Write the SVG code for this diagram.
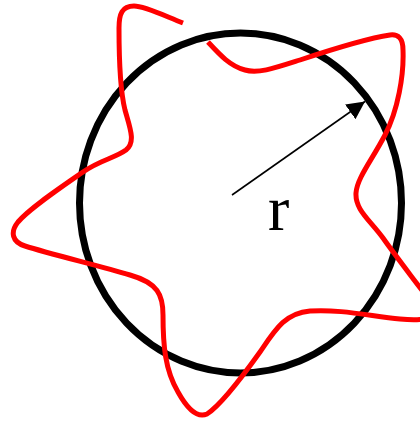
<svg xmlns="http://www.w3.org/2000/svg" width="420" height="422" viewBox="0 0 420 422">
<style>
.circ{fill:none;stroke:#000;stroke-width:7}
.wave{fill:none;stroke:#ff0000;stroke-width:5;stroke-linejoin:round}
.ray{stroke:#000;stroke-width:1.6;fill:none}
.lbl{font-family:"Liberation Serif","Times New Roman",serif;font-size:64px;fill:#000}
</style>
<defs>
<marker id="ah" markerUnits="userSpaceOnUse" markerWidth="20" markerHeight="20" refX="18" refY="9" orient="auto">
<path d="M0,0 L18,9 L0,18 Z" fill="#000"/>
</marker>
</defs>
<rect width="420" height="422" fill="#fff"/>
<g id="circle">
<ellipse class="circ" cx="240.5" cy="203" rx="161" ry="170"/>
</g>
<g id="wave">
<path class="wave" d="M183,23 C165,16 145,6 134,6 C122,6 119,14 119,28 C119,60 120,90 125,110 C130,128 136,142 126,150 C115,158 100,160 83,172 C60,188 30,208 18,222 C10,232 12,242 25,246 C50,254 100,266 130,275 C158,283 163,295 163,315 C163,345 165,370 178,392 C188,410 198,418 207,414 C218,407 240,380 260,352 C275,330 285,313 310,311 C340,309 370,316 400,319 C420,321 442,320 432,304 C420,287 400,262 383,238 C370,220 355,210 356,193 C357,178 372,160 385,135 C398,110 404,75 403,50 C403,38 398,34 390,35 C370,38 330,50 300,60 C275,68 258,74 245,70 C230,66 220,55 208,42"/>
</g>
<g id="connectors">
<line class="ray" x1="232" y1="195" x2="365" y2="101.5" marker-end="url(#ah)"/>
</g>
<g id="label">
<text class="lbl" x="268" y="230">r</text>
</g>
</svg>
